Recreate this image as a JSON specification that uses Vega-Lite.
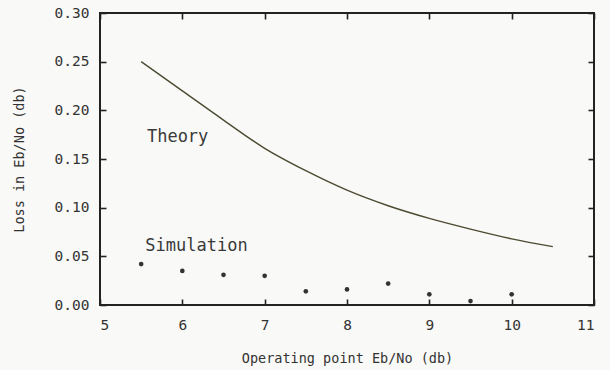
{
  "$schema": "https://vega.github.io/schema/vega-lite/v6.json",
  "width": 494,
  "height": 292,
  "autosize": {"type": "none"},
  "padding": {"left": 100, "top": 13, "right": 16, "bottom": 65},
  "background": "#f9f9f7",
  "config": {
    "view": {"stroke": "#222222", "strokeWidth": 2},
    "font": "DejaVu Sans Mono",
    "axis": {
      "grid": false,
      "domain": false,
      "offset": -6,
      "ticks": true,
      "tickColor": "#222222",
      "tickWidth": 1.6,
      "tickSize": 6,
      "zindex": 1,
      "labelColor": "#333333",
      "labelFontSize": 14.5,
      "labelFont": "DejaVu Sans Mono",
      "titleFont": "DejaVu Sans Mono",
      "titleFontSize": 13.5,
      "titleFontWeight": "normal",
      "titleColor": "#333333"
    }
  },
  "datasets": {
    "theory": [
      {"ebno": 5.5, "loss": 0.25},
      {"ebno": 6.0, "loss": 0.22},
      {"ebno": 6.5, "loss": 0.19},
      {"ebno": 7.0, "loss": 0.161},
      {"ebno": 7.5, "loss": 0.138},
      {"ebno": 8.0, "loss": 0.118},
      {"ebno": 8.5, "loss": 0.102},
      {"ebno": 9.0, "loss": 0.089},
      {"ebno": 9.5, "loss": 0.078},
      {"ebno": 10.0, "loss": 0.068},
      {"ebno": 10.5, "loss": 0.06}
    ],
    "simulation": [
      {"ebno": 5.5, "loss": 0.042},
      {"ebno": 6.0, "loss": 0.035},
      {"ebno": 6.5, "loss": 0.031},
      {"ebno": 7.0, "loss": 0.03},
      {"ebno": 7.5, "loss": 0.014},
      {"ebno": 8.0, "loss": 0.016},
      {"ebno": 8.5, "loss": 0.022},
      {"ebno": 9.0, "loss": 0.011},
      {"ebno": 9.5, "loss": 0.004},
      {"ebno": 10.0, "loss": 0.011}
    ],
    "labels": [
      {"ebno": 5.57, "loss": 0.173, "label": "Theory"},
      {"ebno": 5.55, "loss": 0.061, "label": "Simulation"}
    ]
  },
  "layer": [
    {
      "data": {"name": "theory"},
      "mark": {"type": "line", "color": "#4d4a32", "strokeWidth": 1.4, "interpolate": "monotone"},
      "encoding": {
        "x": {
          "field": "ebno", "type": "quantitative",
          "scale": {"domain": [5, 11], "nice": false},
          "axis": {"title": "Operating point Eb/No (db)", "values": [5, 6, 7, 8, 9, 10, 11], "format": "d", "labelPadding": 13, "titlePadding": 20}
        },
        "y": {
          "field": "loss", "type": "quantitative",
          "scale": {"domain": [0, 0.3], "nice": false},
          "axis": {"title": "Loss in Eb/No (db)", "values": [0, 0.05, 0.1, 0.15, 0.2, 0.25, 0.3], "format": ".2f", "labelPadding": 11, "titlePadding": 28}
        }
      }
    },
    {
      "data": {"name": "simulation"},
      "mark": {"type": "circle", "color": "#333333", "opacity": 1, "size": 22},
      "encoding": {
        "x": {"field": "ebno", "type": "quantitative", "axis": null},
        "y": {"field": "loss", "type": "quantitative", "axis": null}
      }
    },
    {
      "data": {"name": "labels"},
      "mark": {"type": "text", "align": "left", "baseline": "middle", "fontSize": 17, "color": "#3a3a3a", "font": "DejaVu Sans Mono"},
      "encoding": {
        "x": {
          "field": "ebno", "type": "quantitative",
          "axis": {"orient": "top", "title": null, "labels": false, "values": [5, 6, 7, 8, 9, 10, 11]}
        },
        "y": {
          "field": "loss", "type": "quantitative",
          "axis": {"orient": "right", "title": null, "labels": false, "values": [0, 0.05, 0.1, 0.15, 0.2, 0.25, 0.3]}
        },
        "text": {"field": "label"}
      }
    }
  ],
  "resolve": {"axis": {"x": "independent", "y": "independent"}}
}
